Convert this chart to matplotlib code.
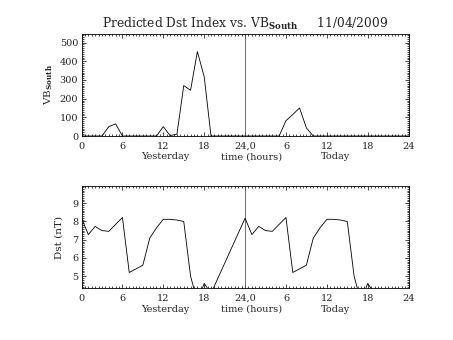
import numpy as np
import matplotlib.pyplot as plt
from matplotlib.ticker import MultipleLocator

plt.rcParams['font.family'] = 'DejaVu Serif'
plt.rcParams['mathtext.fontset'] = 'dejavuserif'

# VB south, hourly, yesterday (0-23) then today (24-48)
vb_hours = list(range(0, 49))
vb_vals = [0, 0, 0, 0, 50, 65, 0, 0, 0, 0, 0, 0, 50, 2, 10, 270, 245, 452, 318, 0,
           0, 0, 0, 0,
           0, 0, 0, 0, 0, 0, 82, 115, 150, 43, 0, 0, 0, 0, 0, 0, 0, 0, 0, 0,
           0, 0, 0, 0, 0]

# predicted Dst (gaps where no value)
dst_hours = [0, 1, 2, 3, 4, 6, 7, 9, 10, 11, 12, 13, 14, 15, 16, 17, 18, 19,
             24, 25, 26, 27, 28, 30, 31, 33, 34, 35, 36, 37, 38, 39, 40, 41, 42, 43]
dst_vals = [8.18, 7.28, 7.73, 7.5, 7.46, 8.22, 5.2, 5.6, 7.08, 7.65, 8.12, 8.12, 8.08, 8.0,
            5.0, 3.6, 4.6, 4.05,
            8.18, 7.28, 7.73, 7.5, 7.46, 8.22, 5.2, 5.6, 7.08, 7.65, 8.12, 8.12, 8.08, 8.0,
            5.0, 3.6, 4.6, 4.05]

xticks = [0, 6, 12, 18, 24, 30, 36, 42, 48]
xticklabels = ['0', '6', '12', '18', '24,0', '6', '12', '18', '24']

fig = plt.figure(figsize=(4.53, 3.40), dpi=100)
ax1 = fig.add_axes([0.180, 0.600, 0.722, 0.301])
ax2 = fig.add_axes([0.180, 0.152, 0.722, 0.301])

lw = 0.6
tc = '0.15'
for ax in (ax1, ax2):
    ax.set_xlim(0, 48)
    ax.set_xticks(xticks)
    ax.set_xticklabels(xticklabels)
    ax.xaxis.set_minor_locator(MultipleLocator(0.5))
    ax.tick_params(which='both', direction='in', top=True, right=True,
                   labelsize=7, width=0.5, labelcolor=tc)
    ax.tick_params(axis='y', pad=2.5)
    ax.tick_params(axis='x', pad=4)
    ax.tick_params(which='major', length=3)
    ax.tick_params(which='minor', length=1.5)
    for s in ax.spines.values():
        s.set_linewidth(0.6)
    ax.axvline(24, color='0.35', lw=lw)
    tr = ax.get_xaxis_transform()
    ax.text(12.3, -0.205, 'Yesterday', transform=tr, ha='center', va='center',
            fontsize=7, color=tc)
    ax.text(25, -0.205, 'time (hours)', transform=tr, ha='center', va='center',
            fontsize=7, color=tc)
    ax.text(37.3, -0.205, 'Today', transform=tr, ha='center', va='center',
            fontsize=7, color=tc)

ax1.plot(vb_hours, vb_vals, color='black', lw=lw)
ax1.set_ylim(0, 548)
ax1.set_yticks([0, 100, 200, 300, 400, 500])
ax1.yaxis.set_minor_locator(MultipleLocator(10))
ax1.set_ylabel(r'VB$_{\mathbf{South}}$', fontsize=7.5, color=tc)
ax1.yaxis.set_label_coords(-0.08, 0.5)
ax1.set_title(r'Predicted Dst Index vs. VB$_{\mathbf{South}}$     11/04/2009',
              fontsize=8.8, pad=4, color=tc)

ax2.plot(dst_hours, dst_vals, color='black', lw=lw, clip_on=True)
ax2.set_ylim(4.33, 9.95)
ax2.set_yticks([5, 6, 7, 8, 9])
ax2.yaxis.set_minor_locator(MultipleLocator(0.1))
ax2.set_ylabel('Dst (nT)', fontsize=7.5, color=tc)
ax2.yaxis.set_label_coords(-0.055, 0.5)

fig.savefig('out.png', dpi=100)
